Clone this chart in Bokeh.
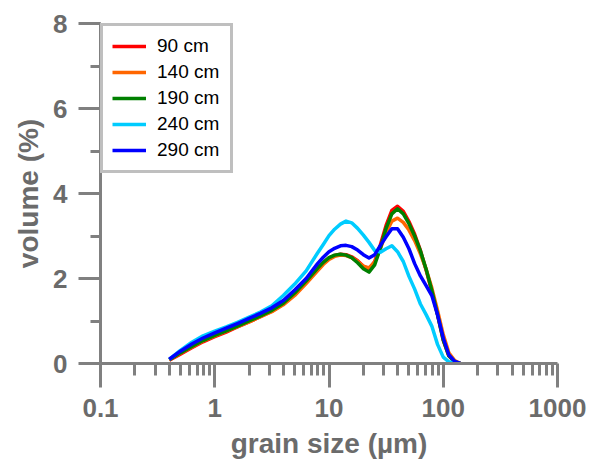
from bokeh.plotting import figure
from bokeh.models import Range1d, FixedTicker, SingleIntervalTicker, CustomJSTickFormatter, Legend, LegendItem
from bokeh.embed import file_html
from bokeh.resources import INLINE

# grain size classes (µm)
size_um = [0.4, 0.5, 0.63, 0.79, 1.0, 1.26, 1.58, 2.0, 2.51, 3.16, 3.98, 5.01, 6.31, 7.94,
           8.91, 10.0, 11.2, 12.6, 14.1, 15.8, 17.8, 20.0, 22.4, 25.1, 28.2, 31.6, 35.5,
           39.8, 44.7, 50.1, 56.2, 63.1, 70.8, 79.4, 89.1, 100.0, 112.0, 126.0, 141.0]

# volume (%) per depth
v_90cm = [0.08, 0.22, 0.37, 0.51, 0.63, 0.74, 0.86, 0.98, 1.10, 1.23, 1.40, 1.64, 1.92, 2.22,
          2.37, 2.48, 2.54, 2.57, 2.56, 2.51, 2.42, 2.29, 2.22, 2.40, 2.80, 3.25, 3.60,
          3.70, 3.58, 3.34, 3.04, 2.66, 2.20, 1.70, 1.15, 0.55, 0.18, 0.04, 0.0]
v_140cm = [0.09, 0.24, 0.39, 0.53, 0.65, 0.76, 0.87, 0.98, 1.10, 1.22, 1.38, 1.60, 1.88, 2.18,
           2.33, 2.45, 2.52, 2.55, 2.54, 2.49, 2.40, 2.29, 2.25, 2.38, 2.70, 3.08, 3.35,
           3.42, 3.32, 3.14, 2.89, 2.58, 2.22, 1.78, 1.25, 0.68, 0.25, 0.07, 0.0]
v_190cm = [0.09, 0.25, 0.40, 0.54, 0.66, 0.77, 0.88, 1.00, 1.12, 1.25, 1.42, 1.66, 1.94, 2.24,
           2.38, 2.49, 2.55, 2.57, 2.55, 2.49, 2.37, 2.23, 2.15, 2.32, 2.72, 3.18, 3.52,
           3.64, 3.52, 3.29, 3.00, 2.65, 2.22, 1.72, 1.15, 0.55, 0.18, 0.04, 0.0]
v_240cm = [0.10, 0.31, 0.50, 0.65, 0.76, 0.86, 0.97, 1.09, 1.21, 1.36, 1.60, 1.87, 2.18, 2.60,
           2.80, 3.01, 3.16, 3.28, 3.35, 3.31, 3.18, 3.02, 2.85, 2.66, 2.62, 2.70, 2.77,
           2.63, 2.40, 2.05, 1.75, 1.40, 1.15, 0.88, 0.45, 0.15, 0.04, 0.0, 0.0]
v_290cm = [0.10, 0.29, 0.46, 0.60, 0.72, 0.83, 0.94, 1.06, 1.18, 1.31, 1.48, 1.73, 2.00, 2.35,
           2.50, 2.63, 2.71, 2.77, 2.78, 2.75, 2.67, 2.56, 2.48, 2.56, 2.78, 2.98, 3.17,
           3.17, 2.97, 2.70, 2.35, 2.06, 1.83, 1.60, 1.15, 0.60, 0.20, 0.05, 0.0]

labels = ["90 cm", "140 cm", "190 cm", "240 cm", "290 cm"]
colors = ["#ff0000", "#ff6600", "#008000", "#00ccff", "#0000ff"]
series = [v_90cm, v_140cm, v_190cm, v_240cm, v_290cm]

x_ticks = [0.1, 1, 10, 100, 1000]
x_minor = [m * d for d in [0.1, 1, 10, 100] for m in range(2, 10)]

grey = "#808080"
text_grey = "#6b6b6b"
font = "Liberation Sans"

p = figure(width=592, height=461, x_axis_type="log", output_backend="svg",
           toolbar_location=None, x_range=Range1d(0.1, 1000), y_range=Range1d(0, 8),
           min_border_left=100, min_border_right=35, min_border_top=23, min_border_bottom=96,
           x_axis_label="grain size (µm)", y_axis_label="volume (%)")
p.outline_line_color = None
p.xgrid.visible = False
p.ygrid.visible = False
p.background_fill_color = "white"
p.border_fill_color = "white"

items = []
for lab, col, ys in zip(labels, colors, series):
    r = p.line(size_um, ys, line_color=col, line_width=3.5, line_join="round")
    items.append(LegendItem(label=lab, renderers=[r]))

p.xaxis.ticker = FixedTicker(ticks=x_ticks, minor_ticks=x_minor)
p.xaxis.formatter = CustomJSTickFormatter(code="return tick.toString();")
p.yaxis.ticker = SingleIntervalTicker(interval=2, num_minor_ticks=2)

for ax in (p.xaxis[0], p.yaxis[0]):
    ax.axis_line_color = grey
    ax.axis_line_width = 3
    ax.major_tick_line_color = grey
    ax.major_tick_line_width = 3
    ax.minor_tick_line_color = grey
    ax.minor_tick_line_width = 3
    ax.major_tick_in = 0
    ax.minor_tick_in = 0
    ax.major_label_text_font = font
    ax.major_label_text_font_style = "bold"
    ax.major_label_text_font_size = "26px"
    ax.major_label_text_color = text_grey
    ax.axis_label_text_font = font
    ax.axis_label_text_font_style = "bold"
    ax.axis_label_text_font_size = "28px"
    ax.axis_label_text_color = text_grey

p.xaxis.major_tick_out = 24
p.xaxis.minor_tick_out = 12
p.xaxis.major_label_standoff = 11
p.xaxis.axis_label_standoff = 8
p.yaxis.major_tick_out = 22
p.yaxis.minor_tick_out = 10
p.yaxis.major_label_standoff = 11
p.yaxis.axis_label_standoff = 6

legend = Legend(items=items, location="top_left", margin=0, padding=9,
                spacing=4, label_height=22, glyph_height=22, glyph_width=34,
                label_standoff=11, label_width=64,
                label_text_font=font, label_text_font_size="19px", label_text_color="black",
                border_line_color=grey, border_line_width=3,
                background_fill_color="white", background_fill_alpha=1.0)
p.add_layout(legend)

open("out.html", "w").write(file_html(p, INLINE))
